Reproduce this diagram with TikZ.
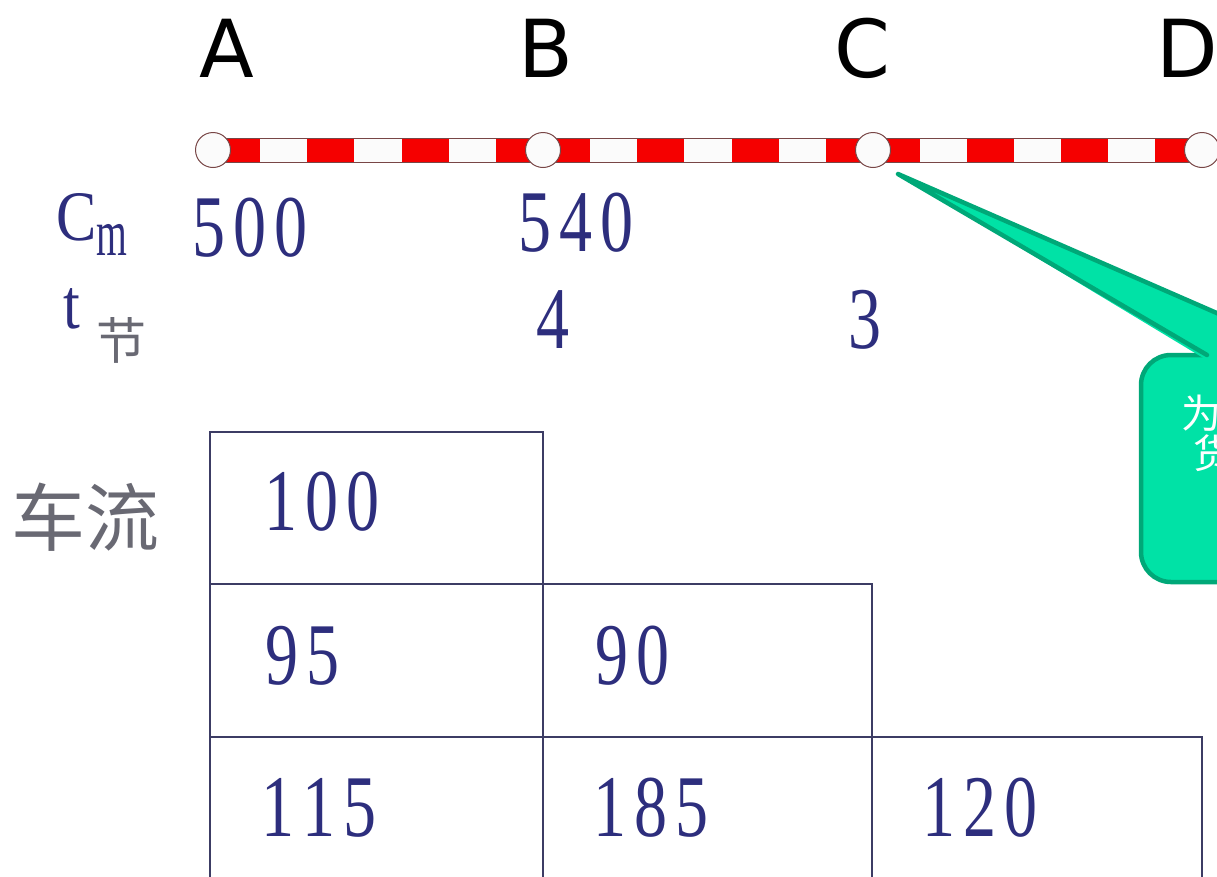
\documentclass[tikz,border=0pt]{standalone}
\usepackage{fontspec}
\usepackage{graphicx}
\setmainfont{Liberation Serif}
\newfontfamily\numfont[FakeStretch=0.75]{Liberation Serif}
\newfontfamily\labfont[FakeStretch=0.85]{Liberation Serif}
\newfontfamily\subfont[FakeStretch=0.6]{Liberation Serif}
\newfontfamily\letterfont{DejaVu Sans}
\newfontfamily\cjk{Noto Sans CJK SC}
\newcommand\dk{\kern8pt}
\definecolor{navy}{RGB}{45,46,125}
\definecolor{railred}{RGB}{245,0,0}
\definecolor{railedge}{RGB}{120,70,70}
\definecolor{gridline}{RGB}{60,60,100}
\definecolor{cngray}{RGB}{105,105,115}
\definecolor{cofill}{RGB}{0,226,166}
\definecolor{coline}{RGB}{0,168,120}
\begin{document}
\begin{tikzpicture}[x=1pt,y=-1pt,
  letter/.style={anchor=base,inner sep=0pt,font=\letterfont\fontsize{80}{80}\selectfont},
  num/.style={anchor=base west,inner sep=0pt,text=navy,font=\numfont\fontsize{88}{88}\selectfont},
  lab/.style={anchor=base west,inner sep=0pt,text=navy,font=\labfont\fontsize{71}{71}\selectfont},
  station/.style={circle,inner sep=0pt,minimum size=35pt,fill=white!97!gray,draw=railedge,line width=1pt},
  grid/.style={draw=gridline,line width=1.5pt},
  cn/.style={inner sep=0pt,text=cngray,font=\cjk\fontsize{74}{74}\selectfont},
  cotext/.style={anchor=west,inner sep=0pt,text=white,font=\cjk\fontsize{40}{40}\selectfont}]
\useasboundingbox (0,0) rectangle (1217,876);
\clip (0,0) rectangle (1217,876);
% station letters
\node[letter] (lA) at (227,77) {A};
\node[letter] (lB) at (546,77) {B};
\node[letter] (lC) at (862,77) {C};
\node[letter] (lD) at (1187,77) {D};
% rail
\fill[white!97!gray] (213,138) rectangle (1202,162);
\foreach \s/\e in {213/543,543/873,873/1202}{
  \foreach \k in {0,2,4,6}{
    \fill[railred] ({\s+(\e-\s)*\k/7},138) rectangle ({\s+(\e-\s)*(\k+1)/7},162);
  }
}
\draw[railedge,line width=0.8pt] (213,138) -- (1202,138) (213,162) -- (1202,162);
\node[station] (sA) at (213,150) {};
\node[station] (sB) at (543,150) {};
\node[station] (sC) at (873,150) {};
\node[station] (sD) at (1202,150) {};
% row labels
\node[lab] (Cm) at (56,240) {C};
\node[anchor=base west,inner sep=0pt,text=navy,font=\subfont\fontsize{66}{66}\selectfont] (msub) at (96,255) {m};
\node[lab] (tl) at (63,328) {t};
\node[inner sep=0pt,text=cngray,font=\cjk\fontsize{50}{50}\selectfont] (jie) at (121,340) {节};
\node[num] (c500) at (192,256) {5\dk0\dk0};
\node[num] (c540) at (518,251) {5\dk4\dk0};
\node[num] (t4) at (536,348) {4};
\node[num] (t3) at (848,348) {3};
% table
\node[cn] (cl) at (85,517) {车流};
\draw[grid] (210,432) rectangle (543,584);
\draw[grid] (210,584) rectangle (872,737);
\draw[grid] (543,584) -- (543,737);
\draw[grid] (210,737) rectangle (1202,900);
\draw[grid] (543,737) -- (543,900) (872,737) -- (872,900);
\node[num] (v100) at (264,530) {1\dk0\dk0};
\node[num] (v95) at (265,684) {9\dk5};
\node[num] (v90) at (595,684) {9\dk0};
\node[num] (v115) at (261,836) {1\dk1\dk5};
\node[num] (v185) at (593,836) {1\dk8\dk5};
\node[num] (v120) at (922,836) {1\dk2\dk0};
% callout
\coordinate (tip) at (898,174);
\draw[draw=coline,fill=cofill,line width=4.5pt,rounded corners=30pt] (1141,355) rectangle (1430,582);
\fill[cofill] (tip) -- (1205,359) -- (1318,359) -- cycle;
\draw[coline,line width=4.5pt,line cap=round,line join=round] (1207,355) -- (tip) -- (1313,355);
\node[cotext] (w1) at (1181,413) {为};
\node[cotext] (w2) at (1193,453) {货};
\end{tikzpicture}
\end{document}
